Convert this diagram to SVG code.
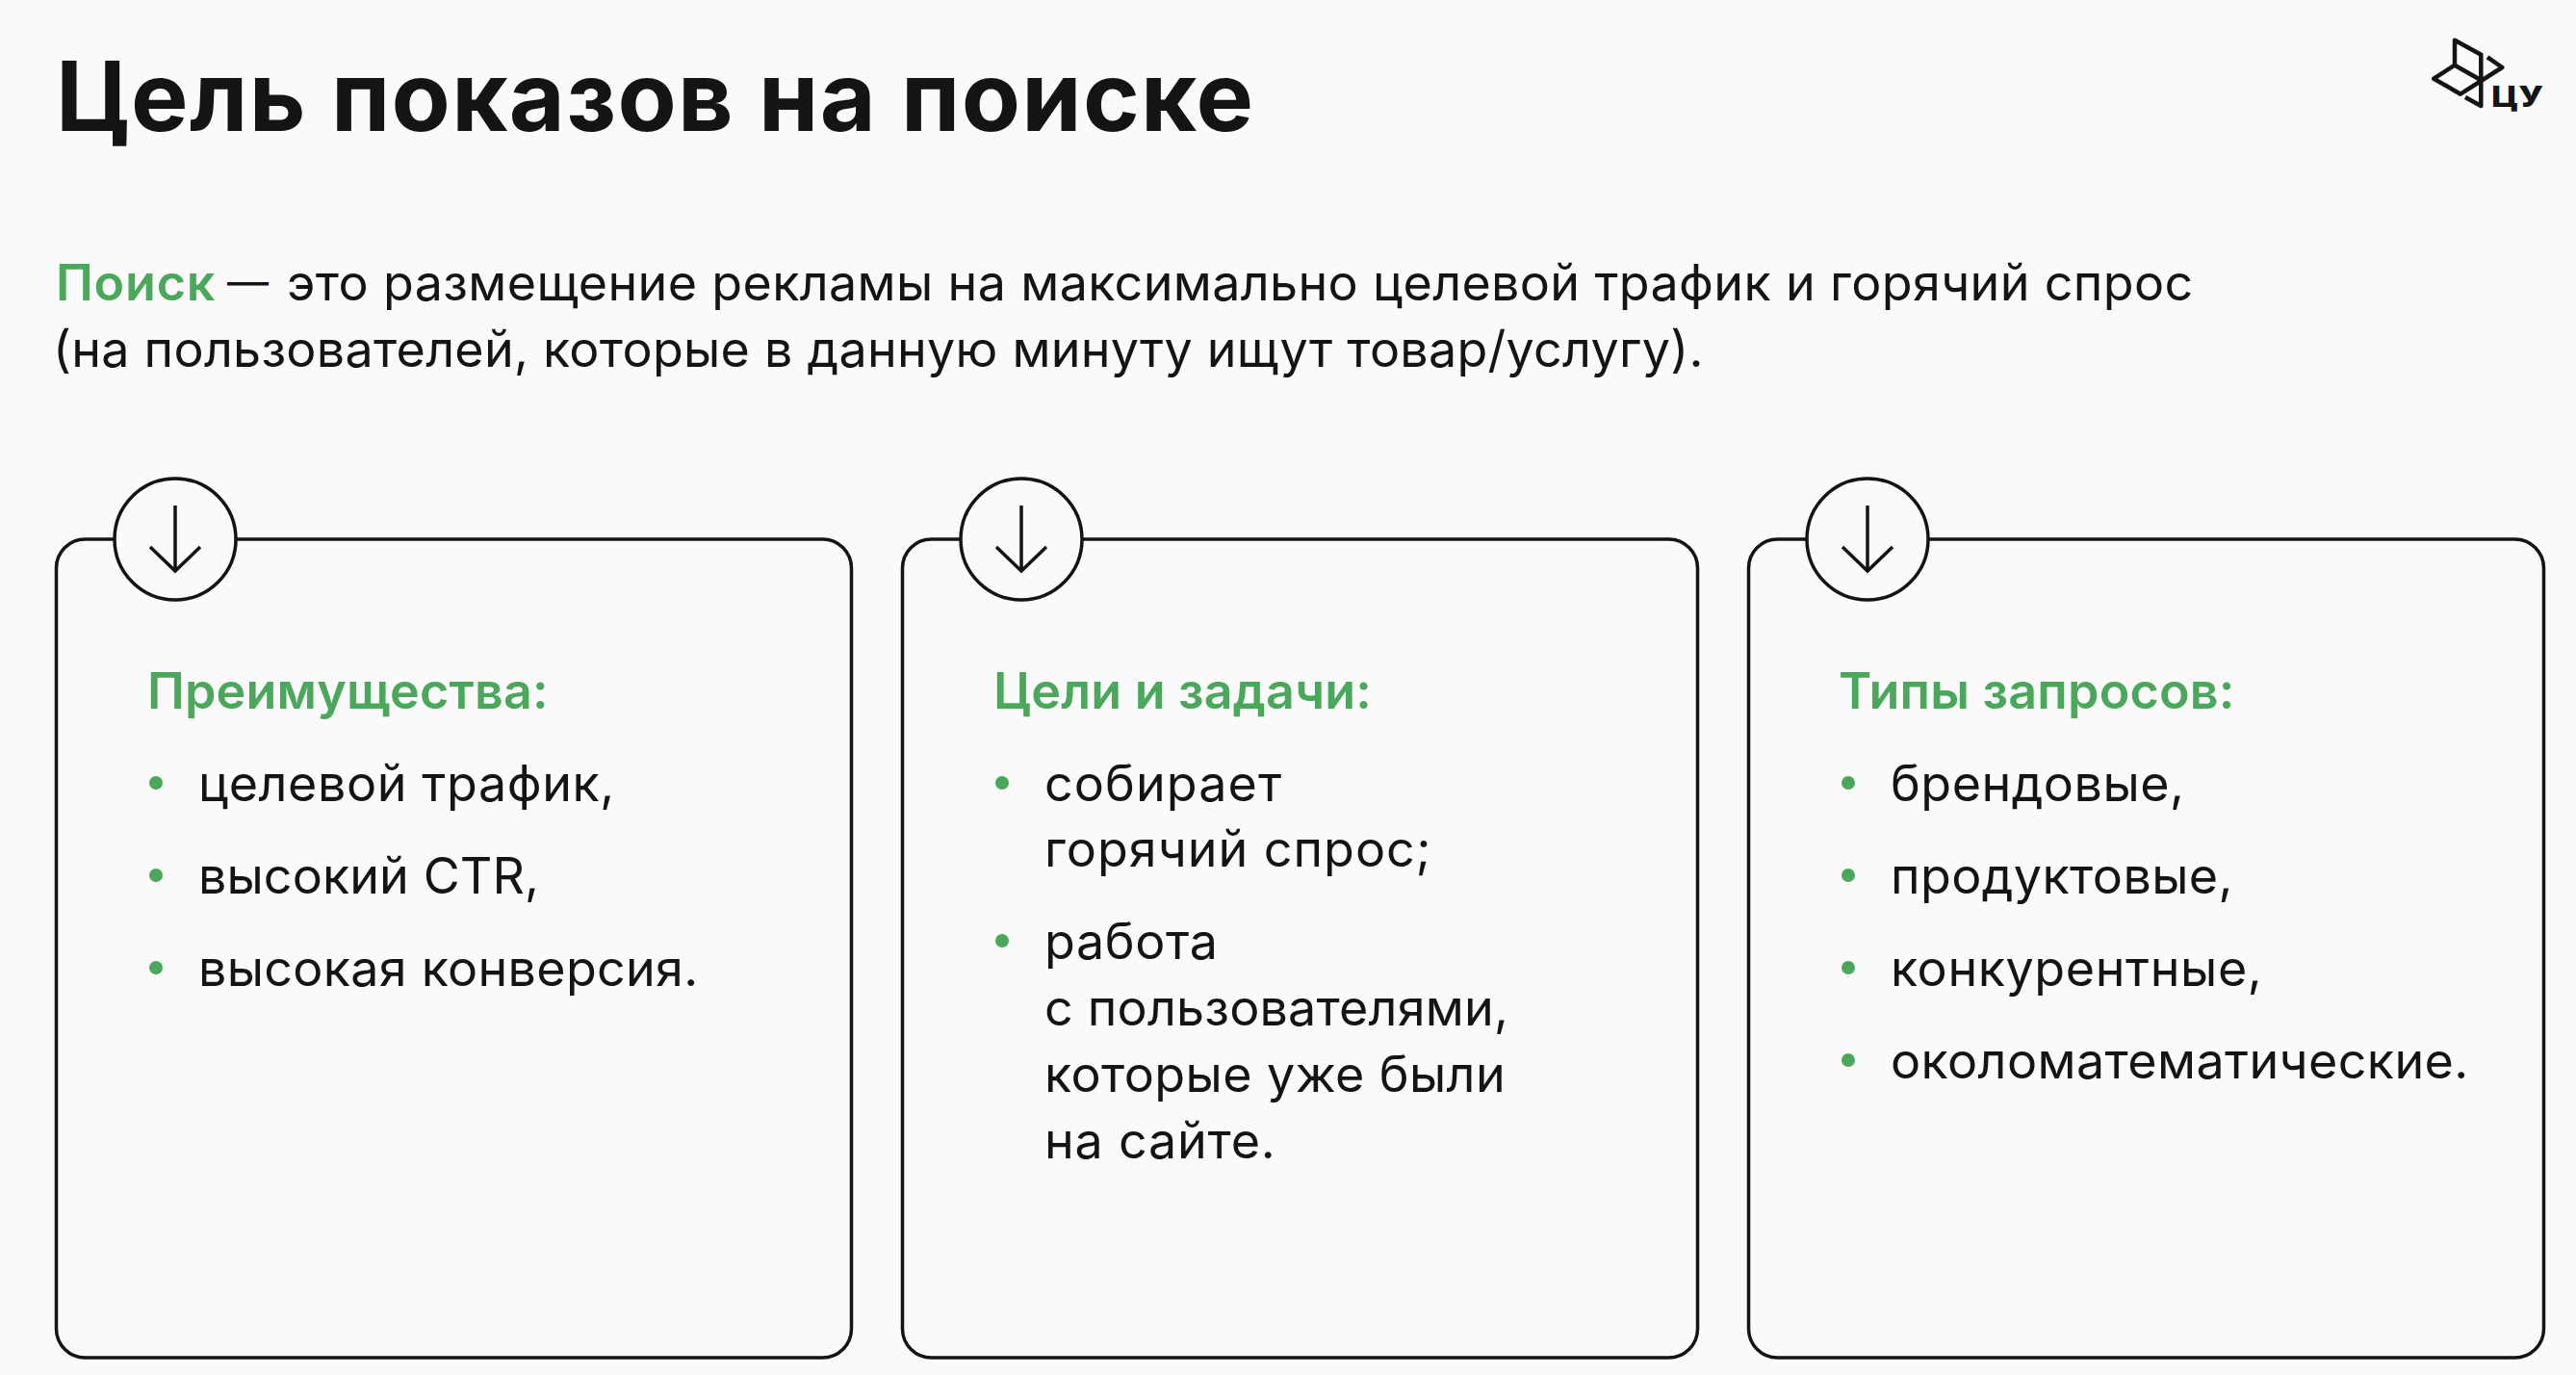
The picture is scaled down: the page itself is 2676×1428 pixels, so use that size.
<svg xmlns="http://www.w3.org/2000/svg" width="2676" height="1428" viewBox="0 0 2676 1428">
<style>
text{font-family:"Inter","Liberation Sans",sans-serif;fill:#141414;font-size:52px}
.t{font-size:100px;font-weight:700}
.g{fill:#4ba75c}
.h{font-weight:600;fill:#4ba75c;letter-spacing:.2px}
.b{letter-spacing:.27px}
.card{fill:none;stroke:#141414;stroke-width:3.5}
.c{fill:#fafafa;stroke:#141414;stroke-width:3.5}
.a{fill:none;stroke:#141414;stroke-width:3.5}
.d{fill:#4ba75c}
.l{fill:none;stroke:#141414;stroke-width:4.500;stroke-linejoin:round}
</style>
<rect width="2676" height="1428" fill="#fafafa"/>
<text class="t" x="58" y="136" textLength="1244">Цель показов на поиске</text>
<text class="b" x="58" y="312"><tspan class="h" style="letter-spacing:.8px">Поиск</tspan> <tspan x="236" dy="-4" style="font-size:43px">—</tspan> <tspan x="298" dy="4" style="letter-spacing:.36px">это размещение рекламы на максимально целевой трафик и горячий спрос</tspan></text>
<text class="b" x="55" y="381">(на пользователей, которые в данную минуту ищут товар/услугу).</text>
<g id="logo"><path class="l" d="M2550 67.700V41.700L2577.300 56.700V110L2561 101M2584 59.300L2599.300 70L2556 97.700L2528.300 81.700L2550 67.700L2577.300 83.300"/>
<text x="2588" y="110.500" textLength="54" lengthAdjust="spacingAndGlyphs" style="font-weight:800;font-size:30px">ЦУ</text></g>
<g id="card1"><rect class="card" x="58.500" y="560" width="826" height="850" rx="30"/><circle class="c" cx="182" cy="560" r="63"/><path class="a" d="M182 525V593M156 568L182 593L208 568"/>
<text class="h" x="153" y="736">Преимущества:</text>
<circle class="d" cx="162" cy="813" r="7"/><text x="206" y="832" style="letter-spacing:.6px">целевой трафик,</text>
<circle class="d" cx="162" cy="909" r="7"/><text x="206" y="928" style="letter-spacing:.1px">высокий CTR,</text>
<circle class="d" cx="162" cy="1005" r="7"/><text x="206" y="1024" style="letter-spacing:.3px">высокая конверсия.</text></g>
<g id="card2"><rect class="card" x="937.500" y="560" width="826" height="850" rx="30"/><circle class="c" cx="1061" cy="560" r="63"/><path class="a" d="M1061 525V593M1035 568L1061 593L1087 568"/>
<text class="h" x="1032" y="736">Цели и задачи:</text>
<circle class="d" cx="1041" cy="813" r="7"/><text x="1085" y="832" style="letter-spacing:1.1px">собирает</text><text x="1085" y="900" style="letter-spacing:1px">горячий спрос;</text>
<circle class="d" cx="1041" cy="977" r="7"/><text x="1085" y="996" style="letter-spacing:.6px">работа</text><text x="1085" y="1065" style="letter-spacing:.2px">с пользователями,</text><text x="1085" y="1134" style="letter-spacing:.4px">которые уже были</text><text x="1085" y="1203" style="letter-spacing:.8px">на сайте.</text></g>
<g id="card3"><rect class="card" x="1816.500" y="560" width="826" height="850" rx="30"/><circle class="c" cx="1940" cy="560" r="63"/><path class="a" d="M1940 525V593M1914 568L1940 593L1966 568"/>
<text class="h" x="1910" y="736">Типы запросов:</text>
<circle class="d" cx="1920" cy="813" r="7"/><text x="1964" y="832" style="letter-spacing:.5px">брендовые,</text>
<circle class="d" cx="1920" cy="909" r="7"/><text x="1964" y="928" style="letter-spacing:.4px">продуктовые,</text>
<circle class="d" cx="1920" cy="1005" r="7"/><text x="1964" y="1024" style="letter-spacing:.6px">конкурентные,</text>
<circle class="d" cx="1920" cy="1101" r="7"/><text x="1964" y="1120" style="letter-spacing:.4px">околоматематические.</text></g>
</svg>
